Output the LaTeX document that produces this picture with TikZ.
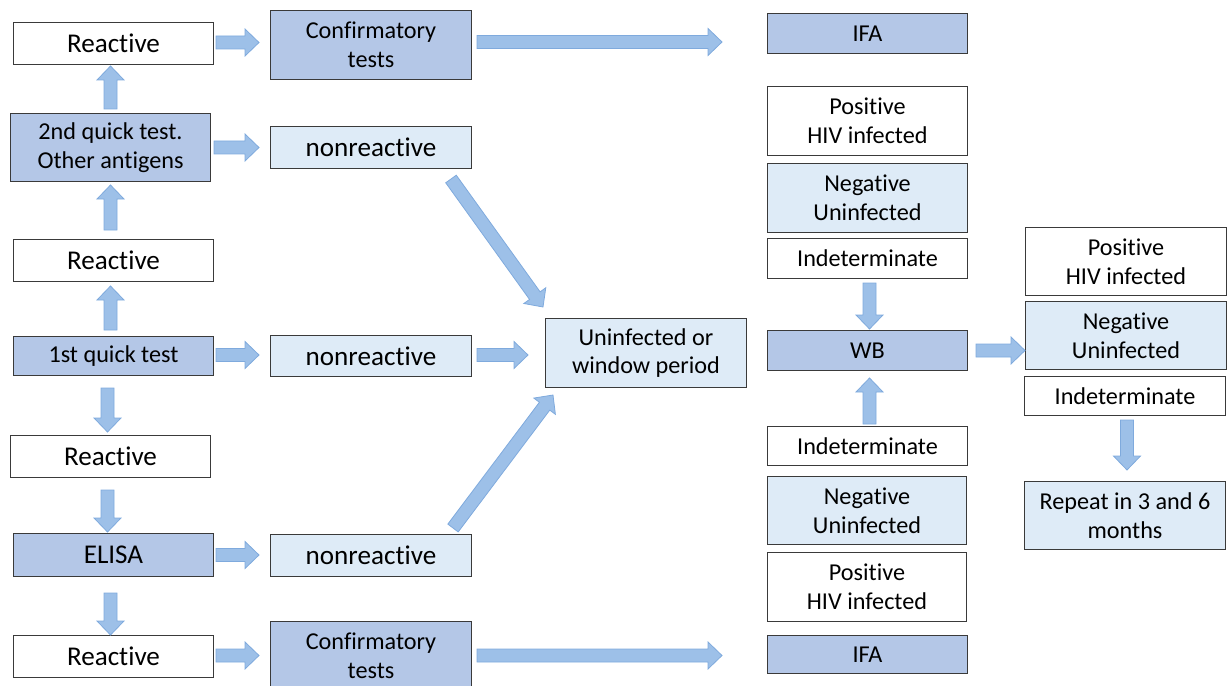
\documentclass[tikz,border=0pt]{standalone}
\usepackage{fontspec}
\setmainfont{Carlito}[Ligatures=NoCommon]
\usetikzlibrary{calc}
\definecolor{darkbox}{HTML}{B4C7E7}
\definecolor{lightbox}{HTML}{DEEBF7}
\definecolor{boxline}{HTML}{3A3A3A}
\definecolor{arrfill}{HTML}{9DC0E8}
\definecolor{arrline}{HTML}{7FAADD}
\newcommand{\barr}[2]{%
  \coordinate (ba-s) at (#1);
  \coordinate (ba-e) at (#2);
  \coordinate (ba-c) at ($(ba-e)!14bp!(ba-s)$);
  \path[blockarrow] ($(ba-s)!6.5bp!90:(ba-e)$) -- ($(ba-c)!6.5bp!90:(ba-e)$) -- ($(ba-c)!13.5bp!90:(ba-e)$) -- (ba-e) -- ($(ba-c)!13.5bp!-90:(ba-e)$) -- ($(ba-c)!6.5bp!-90:(ba-e)$) -- ($(ba-s)!6.5bp!-90:(ba-e)$) -- cycle;
}
\tikzset{
  box/.style={draw=boxline, line width=1bp, anchor=north west, inner sep=0pt, align=center, font=\fontsize{24.3}{29}\selectfont},
  bigtext/.style={font=\fontsize{27.2}{31}\selectfont},
  darkb/.style={box, fill=darkbox},
  lightb/.style={box, fill=lightbox},
  whiteb/.style={box, fill=white},
  blockarrow/.style={fill=arrfill, draw=arrline, line width=0.8bp, line join=miter},
}
\begin{document}
\begin{tikzpicture}[x=1bp,y=-1bp]
\useasboundingbox (0,0) rectangle (1227,686);
% left column
\node[whiteb, bigtext, minimum width=200bp, minimum height=42bp] (r1) at (13,22) {Reactive};
\node[darkb, minimum width=200bp, minimum height=68bp] (q2) at (10,113) {2nd quick test.\\Other antigens};
\node[whiteb, bigtext, minimum width=200bp, minimum height=42bp] (r2) at (13,239) {Reactive};
\node[darkb, minimum width=200bp, minimum height=39bp] (q1) at (13,336) {1st quick test};
\node[whiteb, bigtext, minimum width=200bp, minimum height=42bp] (r3) at (10,435) {Reactive};
\node[darkb, bigtext, minimum width=200bp, minimum height=43bp] (el) at (13,533) {ELISA};
\node[whiteb, bigtext, minimum width=200bp, minimum height=42bp] (r4) at (13,635) {Reactive};
% second column
\node[darkb, minimum width=201bp, minimum height=69bp] (c1) at (270,10) {Confirmatory\\tests};
\node[lightb, bigtext, minimum width=201bp, minimum height=42bp] (nr1) at (270,126) {nonreactive};
\node[lightb, bigtext, minimum width=201bp, minimum height=41bp] (nr2) at (270,335) {nonreactive};
\node[lightb, bigtext, minimum width=201bp, minimum height=42bp] (nr3) at (270,534) {nonreactive};
\node[darkb, minimum width=201bp, minimum height=69bp] (c2) at (270,621) {Confirmatory\\tests};
% middle
\node[lightb, minimum width=201bp, minimum height=69bp] (un) at (545,318) {Uninfected or\\window period};
% fourth column
\node[darkb, minimum width=200bp, minimum height=40bp] (ifa1) at (767,13) {IFA};
\node[whiteb, minimum width=200bp, minimum height=69bp] (p1) at (767,86) {Positive\\HIV infected};
\node[lightb, minimum width=200bp, minimum height=69bp] (n1) at (767,163) {Negative\\Uninfected};
\node[whiteb, minimum width=200bp, minimum height=40bp] (ind1) at (767,238) {Indeterminate};
\node[darkb, minimum width=200bp, minimum height=40bp] (wb) at (767,330) {WB};
\node[whiteb, minimum width=200bp, minimum height=39bp] (ind3) at (767,426) {Indeterminate};
\node[lightb, minimum width=199bp, minimum height=68bp] (n3) at (767,476) {Negative\\Uninfected};
\node[whiteb, minimum width=199bp, minimum height=69bp] (p3) at (767,552) {Positive\\HIV infected};
\node[darkb, minimum width=200bp, minimum height=38bp] (ifa2) at (767,635) {IFA};
% fifth column
\node[whiteb, minimum width=201bp, minimum height=68bp] (p2) at (1025,227) {Positive\\HIV infected};
\node[lightb, minimum width=201bp, minimum height=68bp] (n2) at (1025,301) {Negative\\Uninfected};
\node[whiteb, minimum width=201bp, minimum height=39bp] (ind2) at (1024,376) {Indeterminate};
\node[lightb, minimum width=201bp, minimum height=68bp] (rep) at (1024,481) {Repeat in 3 and 6\\months};
% arrows
\barr{$(q2.north)+(0,-4)$}{$(q2.north |- r1.south)+(0,1)$}
\barr{$(r1.east)+(2,-1)$}{$(c1.west |- r1.east)+(-11,-1)$}
\barr{$(c1.east)+(5,-3)$}{$(ifa1.west |- c1.east)+(-45,-3)$}
\barr{$(q2.east)+(3,0)$}{$(nr1.west |- q2.east)+(-11,0)$}
\barr{$(q2.south |- r2.north)+(0,-9)$}{$(q2.south)+(0,3)$}
\barr{$(q2.south |- q1.north)+(0,-6)$}{$(q2.south |- r2.south)+(0,4)$}
\barr{$(q1.east)+(2,-1)$}{$(nr2.west |- q1.east)+(-11,-1)$}
\barr{$(nr1.south east)+(-21,10)$}{$(un.north west)+(-2,-11)$}
\barr{$(nr2.east)+(5,-1)$}{$(un.west |- nr2.east)+(-17,-1)$}
\barr{$(nr3.north east)+(-19,-6)$}{$(un.south west)+(8,7)$}
\barr{$(r3.north |- q1.south)+(-3,12)$}{$(r3.north)+(-3,-3)$}
\barr{$(r3.south)+(-3,12)$}{$(r3.south |- el.north)+(-3,-1)$}
\barr{$(el.east)+(2,0)$}{$(nr3.west |- el.east)+(-11,0)$}
\barr{$(el.south)+(-3,16)$}{$(el.south |- r4.north)+(-3,0)$}
\barr{$(r4.east)+(2,-1)$}{$(c2.west |- r4.east)+(-11,-1)$}
\barr{$(c2.east |- r4.east)+(5,-1)$}{$(ifa2.west |- r4.east)+(-45,-1)$}
\barr{$(ind1.south)+(2,4)$}{$(ind1.south |- wb.north)+(2,-1)$}
\barr{$(ind3.north)+(2,-2)$}{$(ind3.north |- wb.south)+(2,7)$}
\barr{$(wb.east)+(8,0)$}{$(n2.west |- wb.east)+(0,0)$}
\barr{$(ind2.south)+(2,4)$}{$(ind2.south |- rep.north)+(2,-11)$}
\end{tikzpicture}
\end{document}
